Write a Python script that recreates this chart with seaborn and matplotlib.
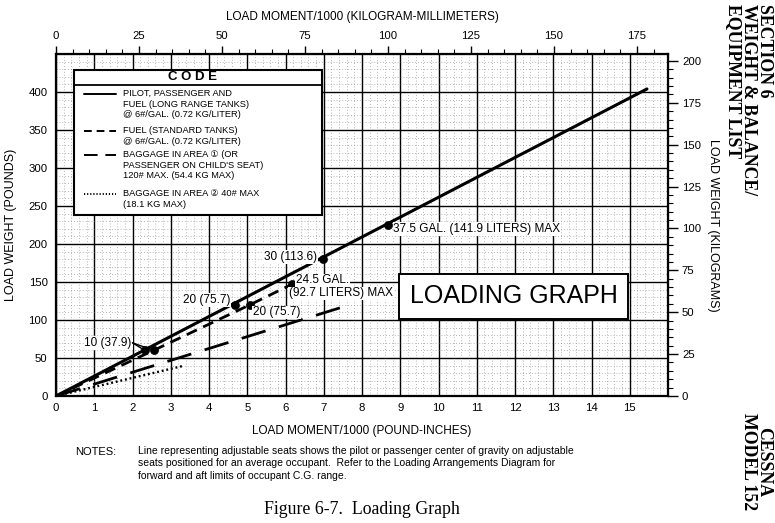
import numpy as np
import pandas as pd
import matplotlib
matplotlib.use('Agg')
import matplotlib.pyplot as plt
import seaborn as sns
from matplotlib.patches import Rectangle
from matplotlib.lines import Line2D
from matplotlib.ticker import MultipleLocator

# values (moment in 1000 lb-in, weight in lb)
pilot_moment = [0.0, 15.45]
pilot_weight = [0, 404]
lr_fuel_moment = [2.32, 4.68, 6.98, 8.68]
lr_fuel_weight = [60, 120, 180, 225]
std_fuel_moment = [0.0, 2.55, 5.07, 6.17]
std_fuel_weight = [0, 60, 120, 147]
bag1_moment = [0.0, 7.68]
bag1_weight = [0, 120]
bag2_moment = [0.0, 3.36]
bag2_weight = [0, 40]

x_ticks = list(range(0, 16))
y_ticks = list(range(0, 401, 50))
kgmm_ticks = list(range(0, 176, 25))
kg_ticks = list(range(0, 201, 25))

LBIN_TO_KGMM = 11.521
LB_TO_KG = 0.45359

sns.set_style('white')
plt.rcParams['font.family'] = ['Liberation Sans', 'DejaVu Sans']
plt.rcParams['text.color'] = 'black'
plt.rcParams['axes.labelcolor'] = 'black'
plt.rcParams['xtick.color'] = 'black'
plt.rcParams['ytick.color'] = 'black'

W, H = 775, 523
fig = plt.figure(figsize=(W / 100, H / 100), dpi=100)
ax = fig.add_axes([56 / W, 1 - 396 / H, (668 - 56) / W, (396 - 54) / H])


def fx(px):
    return px / W


def fy(py):
    return 1 - py / H


# grid
ax.set_xlim(0, 16)
ax.set_ylim(0, 450)
ax.set_xticks(x_ticks)
ax.set_yticks(y_ticks)
ax.xaxis.set_minor_locator(MultipleLocator(0.2))
ax.yaxis.set_minor_locator(MultipleLocator(10))
ax.grid(which='major', color='black', lw=1.0)
ax.grid(which='minor', color='0.55', lw=0.5, linestyle=(0, (1.2, 3)))
ax.set_axisbelow(True)
ax.tick_params(which='both', length=0, labelsize=8.2)
ax.tick_params(axis='x', pad=5)
ax.tick_params(axis='y', pad=6)
for s in ax.spines.values():
    s.set_color('black')
    s.set_linewidth(1.6)

# lines
sns.lineplot(x=pilot_moment, y=pilot_weight, color='black', lw=2.2, ax=ax, zorder=4)
sns.lineplot(x=std_fuel_moment, y=std_fuel_weight, color='black', lw=2.0,
             linestyle=(0, (4, 2.5)), ax=ax, zorder=4)
sns.lineplot(x=bag1_moment, y=bag1_weight, color='black', lw=2.0,
             linestyle=(0, (9, 5)), ax=ax, zorder=4)
sns.lineplot(x=bag2_moment, y=bag2_weight, color='black', lw=1.7,
             linestyle=(0, (0.8, 1.2)), ax=ax, zorder=4)
sns.scatterplot(x=lr_fuel_moment, y=lr_fuel_weight, color='black', s=34,
                edgecolor='black', ax=ax, zorder=5)
sns.scatterplot(x=std_fuel_moment[1:], y=std_fuel_weight[1:], color='black', s=34,
                edgecolor='black', ax=ax, zorder=5)

# point labels
lab = dict(fontsize=8.5, zorder=6,
           bbox=dict(facecolor='white', edgecolor='none', pad=0.6))
ax.text(1.98, 70, '10 (37.9)', ha='right', va='center', **lab)
ax.annotate('', xy=(lr_fuel_moment[0], lr_fuel_weight[0]), xytext=(2.0, 70),
            arrowprops=dict(arrowstyle='-', color='black', lw=1.0,
                            shrinkA=0, shrinkB=2), zorder=6)
ax.annotate('', xy=(std_fuel_moment[1], std_fuel_weight[1]), xytext=(2.0, 70),
            arrowprops=dict(arrowstyle='-', color='black', lw=1.0,
                            shrinkA=0, shrinkB=2), zorder=6)
ax.text(4.55, 126, '20 (75.7)', ha='right', va='center', **lab)
ax.text(5.15, 110, '20 (75.7)', ha='left', va='center', **lab)
ax.text(6.27, 152, '24.5 GAL.', ha='left', va='center', **lab)
ax.text(6.1, 135, '(92.7 LITERS) MAX', ha='left', va='center', **lab)
ax.text(6.82, 183, '30 (113.6)', ha='right', va='center', **lab)
ax.text(8.82, 220, '37.5 GAL. (141.9 LITERS) MAX', ha='left', va='center', **lab)
ax.text(11.97, 131, 'LOADING GRAPH', ha='center', va='center', fontsize=18,
        zorder=6, bbox=dict(facecolor='white', edgecolor='black', lw=1.4,
                            boxstyle='square,pad=0.42'))

# bottom / left labels
ax.set_xlabel('LOAD MOMENT/1000 (POUND-INCHES)', fontsize=8.5, labelpad=9)
ax.set_ylabel('LOAD WEIGHT (POUNDS)', fontsize=9, labelpad=8)

# top axis in kg-mm
top = ax.secondary_xaxis('top', functions=(lambda v: v * LBIN_TO_KGMM,
                                           lambda v: v / LBIN_TO_KGMM))
top.set_xticks(kgmm_ticks)
top.xaxis.set_minor_locator(MultipleLocator(5))
top.tick_params(which='major', length=6, width=1.0, labelsize=8.2, pad=3)
top.tick_params(which='minor', length=3.5, width=0.8)
top.set_xlabel('LOAD MOMENT/1000 (KILOGRAM-MILLIMETERS)', fontsize=8.5, labelpad=8)

# right axis in kg
right = ax.secondary_yaxis('right', functions=(lambda v: v * LB_TO_KG,
                                               lambda v: v / LB_TO_KG))
right.set_yticks(kg_ticks)
right.yaxis.set_minor_locator(MultipleLocator(5))
right.tick_params(which='major', length=7, width=1.0, labelsize=8.2, pad=3)
right.tick_params(which='minor', length=3.5, width=0.8)
right.set_ylabel('LOAD WEIGHT (KILOGRAMS)', fontsize=9, rotation=270, labelpad=13)

# code box
fig.add_artist(Rectangle((fx(74), fy(215)), fx(322) - fx(74), (215 - 70) / H,
                         transform=fig.transFigure, facecolor='white',
                         edgecolor='black', lw=1.5, zorder=7))
fig.add_artist(Line2D([fx(74), fx(322)], [fy(85), fy(85)], transform=fig.transFigure,
                      color='black', lw=1.3, zorder=8))
fig.text(fx(193), fy(77.5), 'C O D E', ha='center', va='center', fontsize=9.5,
         fontweight='bold', zorder=8)

code_styles = ['-', (0, (4, 2.5)), (0, (7, 4)), (0, (0.6, 1.0))]
code_y = [94, 131, 155, 194]
code_text = [
    'PILOT, PASSENGER AND\nFUEL (LONG RANGE TANKS)\n@ 6#/GAL. (0.72 KG/LITER)',
    'FUEL (STANDARD TANKS)\n@ 6#/GAL. (0.72 KG/LITER)',
    "BAGGAGE IN AREA \u2460 (OR\nPASSENGER ON CHILD'S SEAT)\n120# MAX. (54.4 KG MAX)",
    'BAGGAGE IN AREA \u2461 40# MAX\n(18.1 KG MAX)',
]
for st, yy, tx in zip(code_styles, code_y, code_text):
    fig.add_artist(Line2D([fx(84), fx(116)], [fy(yy), fy(yy)], transform=fig.transFigure,
                          color='black', lw=1.4, linestyle=st, zorder=8))
    fig.text(fx(123), fy(yy - 5), tx, ha='left', va='top', fontsize=6.7,
             linespacing=1.22, zorder=8)

# notes and caption
fig.text(fx(75), fy(452), 'NOTES:', ha='left', va='center', fontsize=8)
fig.text(fx(138), fy(446),
         'Line representing adjustable seats shows the pilot or passenger center of gravity on adjustable\n'
         'seats positioned for an average occupant.  Refer to the Loading Arrangements Diagram for\n'
         'forward and aft limits of occupant C.G. range.',
         ha='left', va='top', fontsize=7.45, linespacing=1.3)
fig.text(fx(362), fy(510), 'Figure 6-7.  Loading Graph', ha='center', va='center',
         fontsize=12.8, family='Liberation Serif')

# side headers
fig.text(fx(773), fy(4), 'SECTION 6\nWEIGHT & BALANCE/\nEQUIPMENT LIST',
         rotation=270, ha='right', va='top', fontsize=12.8, fontweight='bold',
         family='Liberation Serif', linespacing=0.9, multialignment='left')
fig.text(fx(756), fy(462), 'CESSNA\nMODEL 152', rotation=270, ha='center', va='center',
         fontsize=12.8, fontweight='bold', family='Liberation Serif',
         linespacing=0.9, multialignment='center')

fig.savefig('out.png', dpi=100)
